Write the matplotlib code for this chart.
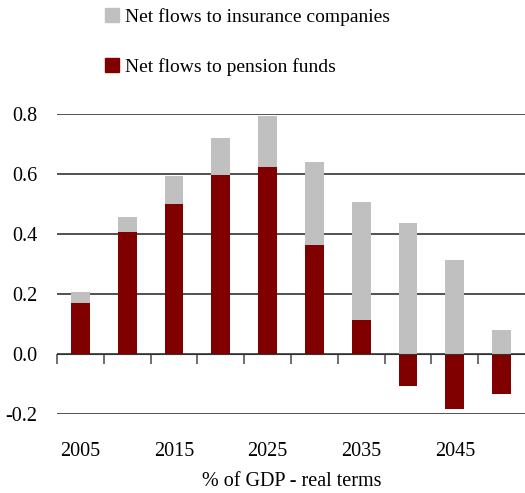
import numpy as np
import matplotlib.pyplot as plt
import matplotlib.transforms as mtransforms
from matplotlib.patches import Patch

plt.rcdefaults()
plt.rcParams['font.family'] = ['Liberation Serif', 'DejaVu Serif']

years = [2005, 2010, 2015, 2020, 2025, 2030, 2035, 2040, 2045, 2050]
pension = [0.171, 0.408, 0.501, 0.598, 0.624, 0.365, 0.115, -0.105, -0.182, -0.132]
insurance = [0.037, 0.050, 0.093, 0.124, 0.171, 0.277, 0.393, 0.438, 0.315, 0.081]
tick_labels = ['2005', '2015', '2025', '2035', '2045']
y_ticks = [-0.2, 0.0, 0.2, 0.4, 0.6, 0.8]

red = '#800000'
grey = '#c0c0c0'
fs = 14.5

fig = plt.figure(figsize=(5.25, 4.93), dpi=100)
ax = fig.add_axes([57 / 525, 1 - 414 / 493, 1 - 57 / 525, (414 - 114.3) / 493])

x = np.arange(len(years))
base = np.maximum(pension, 0)
ax.bar(x, pension, width=0.4, color=red, zorder=3)
ax.bar(x, insurance, width=0.4, bottom=base, color=grey, zorder=3)

ax.set_xlim(-0.5, len(years) - 0.5)
ax.set_ylim(-0.2, 0.8)
ax.set_yticks(y_ticks)
ax.set_yticklabels(['%.1f' % v for v in y_ticks], fontsize=fs)
ax.tick_params(axis='y', length=0, pad=14)
ax.yaxis.grid(True, color='#222222', lw=1.1, zorder=1)

for s in ['left', 'right', 'top']:
    ax.spines[s].set_visible(False)
ax.spines['bottom'].set_position(('data', 0))
ax.spines['bottom'].set_color('#333333')
ax.spines['bottom'].set_zorder(4)
ax.set_xticks(np.arange(len(years)) - 0.5)
ax.set_xticklabels([])
ax.tick_params(axis='x', direction='out', length=7, color='#555555', width=1.2)

# year labels below the plot
trans = mtransforms.blended_transform_factory(ax.transData, fig.transFigure)
for i, lab in enumerate(tick_labels):
    ax.text(2 * i, 1 - 452 / 493, lab, transform=trans, ha='center', va='center', fontsize=fs)

fig.text(0.555, 1 - 481 / 493, '% of GDP - real terms', ha='center', va='center', fontsize=fs)

handles = [Patch(color=grey, label='Net flows to insurance companies'),
           Patch(color=red, label='Net flows to pension funds')]
fig.legend(handles=handles, loc='upper left', bbox_to_anchor=(97 / 525, 1.0),
           frameon=False, fontsize=14, handlelength=0.75, handleheight=0.75,
           handletextpad=0.3, labelspacing=1.65, borderaxespad=0.0)

fig.savefig('out.png', dpi=100)
